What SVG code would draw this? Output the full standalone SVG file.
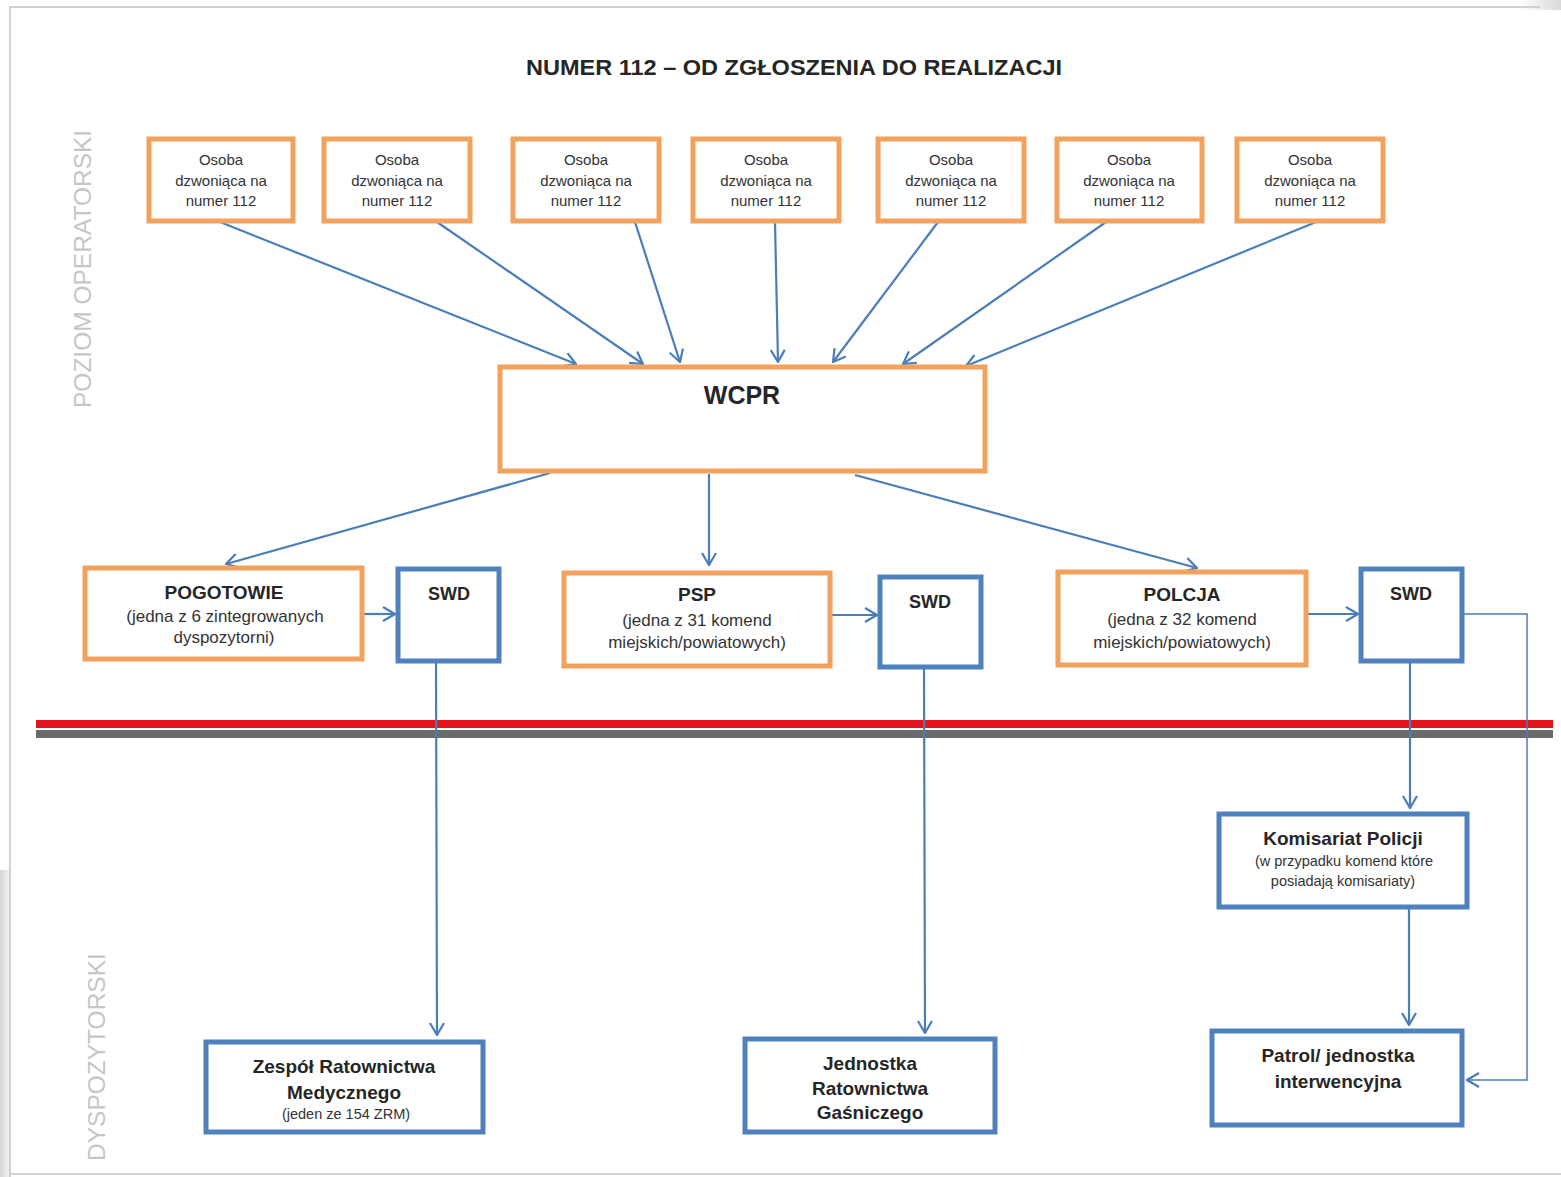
<svg xmlns="http://www.w3.org/2000/svg" width="1561" height="1177" viewBox="0 0 1561 1177">
<defs>
<style>
.or{fill:#fff;stroke:#F2A25C;stroke-width:5}
.bl{fill:#fff;stroke:#4F81BD;stroke-width:5}
.c{fill:none;stroke:#4A7EBB;stroke-width:2.2}
.ct{fill:none;stroke:#4A7EBB;stroke-width:1.5}
.t{font-family:"Liberation Sans",Arial,sans-serif;fill:#262626;text-anchor:middle}
.s15{font-size:15px;fill:#333}
.s17{font-size:17px;fill:#333}
.s14{font-size:14.5px;fill:#333}
.b19{font-size:19px;font-weight:bold}
.side{font-family:"Liberation Sans",Arial,sans-serif;font-size:24.5px;fill:#c6c6c6}
</style>
<marker id="arr" viewBox="0 0 14 16" refX="13" refY="8" markerWidth="14" markerHeight="16" markerUnits="userSpaceOnUse" orient="auto">
<path d="M1,1 L13,8 L1,15" fill="none" stroke="#4A7EBB" stroke-width="2.2"/>
</marker>
<linearGradient id="sh" x1="0" y1="0" x2="1" y2="0">
<stop offset="0" stop-color="#d6d6d6"/>
<stop offset="1" stop-color="#f4f4f4"/>
</linearGradient>
<linearGradient id="tr" x1="0" y1="0" x2="1" y2="0">
<stop offset="0" stop-color="#ffffff"/>
<stop offset="1" stop-color="#d8d8d8"/>
</linearGradient>
</defs>
<rect width="1561" height="1177" fill="#fff"/>
<rect x="0" y="870" width="10" height="307" fill="url(#sh)"/>
<rect x="1520" y="0" width="41" height="10" fill="url(#tr)"/>
<g id="frame" fill="none" stroke="#c4c4c4" stroke-width="1.5">
<path d="M10,1177 L10,7 L1540,7"/>
<path d="M10,1174 L1561,1174"/>
</g>

<text class="t" x="794" y="75" font-size="22" font-weight="bold" textLength="536" lengthAdjust="spacingAndGlyphs">NUMER 112 – OD ZGŁOSZENIA DO REALIZACJI</text>
<text class="side" transform="translate(91,408) rotate(-90)">POZIOM OPERATORSKI</text>
<text class="side" transform="translate(105,1161) rotate(-90)">DYSPOZYTORSKI</text>

<g id="lines">
<rect x="36" y="720" width="1517" height="8" fill="#E3141C"/>
<rect x="36" y="730" width="1517" height="8" fill="#6a6a6a"/>
</g>

<g id="connectors">
<line class="c" x1="220" y1="222" x2="576" y2="364" marker-end="url(#arr)"/>
<line class="c" x1="437" y1="222" x2="643" y2="364" marker-end="url(#arr)"/>
<line class="c" x1="635" y1="222" x2="680" y2="362" marker-end="url(#arr)"/>
<line class="c" x1="775" y1="222" x2="778" y2="362" marker-end="url(#arr)"/>
<line class="c" x1="938" y1="222" x2="833" y2="362" marker-end="url(#arr)"/>
<line class="c" x1="1106" y1="222" x2="903" y2="364" marker-end="url(#arr)"/>
<line class="c" x1="1316" y1="222" x2="966" y2="366" marker-end="url(#arr)"/>
<line class="c" x1="550" y1="473" x2="226" y2="564" marker-end="url(#arr)"/>
<line class="c" x1="709" y1="474" x2="709" y2="565" marker-end="url(#arr)"/>
<line class="c" x1="855" y1="475" x2="1197" y2="568" marker-end="url(#arr)"/>
<line class="c" x1="363" y1="614" x2="395" y2="614" marker-end="url(#arr)"/>
<line class="c" x1="831" y1="615" x2="877" y2="615" marker-end="url(#arr)"/>
<line class="c" x1="1307" y1="614" x2="1358" y2="614" marker-end="url(#arr)"/>
<line class="c" x1="436" y1="662" x2="437" y2="1035" marker-end="url(#arr)"/>
<line class="c" x1="924" y1="668" x2="925" y2="1033" marker-end="url(#arr)"/>
<line class="c" x1="1410" y1="662" x2="1410" y2="808" marker-end="url(#arr)"/>
<line class="c" x1="1409" y1="908" x2="1409" y2="1025" marker-end="url(#arr)"/>
<polyline class="ct" points="1463,614 1527,614 1527,1080 1467,1080" marker-end="url(#arr)"/>
</g>

<g id="caller1"><rect class="or" x="149" y="139" width="144" height="82"/>
<text class="t s15" x="221" y="165">Osoba</text><text class="t s15" x="221" y="186">dzwoniąca na</text><text class="t s15" x="221" y="206">numer 112</text></g>
<g id="caller2"><rect class="or" x="324" y="139" width="146" height="82"/>
<text class="t s15" x="397" y="165">Osoba</text><text class="t s15" x="397" y="186">dzwoniąca na</text><text class="t s15" x="397" y="206">numer 112</text></g>
<g id="caller3"><rect class="or" x="513" y="139" width="146" height="82"/>
<text class="t s15" x="586" y="165">Osoba</text><text class="t s15" x="586" y="186">dzwoniąca na</text><text class="t s15" x="586" y="206">numer 112</text></g>
<g id="caller4"><rect class="or" x="693" y="139" width="146" height="82"/>
<text class="t s15" x="766" y="165">Osoba</text><text class="t s15" x="766" y="186">dzwoniąca na</text><text class="t s15" x="766" y="206">numer 112</text></g>
<g id="caller5"><rect class="or" x="878" y="139" width="146" height="82"/>
<text class="t s15" x="951" y="165">Osoba</text><text class="t s15" x="951" y="186">dzwoniąca na</text><text class="t s15" x="951" y="206">numer 112</text></g>
<g id="caller6"><rect class="or" x="1057" y="139" width="145" height="82"/>
<text class="t s15" x="1129" y="165">Osoba</text><text class="t s15" x="1129" y="186">dzwoniąca na</text><text class="t s15" x="1129" y="206">numer 112</text></g>
<g id="caller7"><rect class="or" x="1237" y="139" width="146" height="82"/>
<text class="t s15" x="1310" y="165">Osoba</text><text class="t s15" x="1310" y="186">dzwoniąca na</text><text class="t s15" x="1310" y="206">numer 112</text></g>

<g id="wcpr"><rect class="or" x="500" y="367" width="485" height="104"/>
<text class="t" x="742" y="404" font-size="25" font-weight="bold">WCPR</text></g>

<g id="pogotowie"><rect class="or" x="85" y="568" width="277" height="91"/>
<text class="t b19" x="224" y="599">POGOTOWIE</text>
<text class="t s17" x="225" y="622">(jedna z 6 zintegrowanych</text>
<text class="t s17" x="224" y="643">dyspozytorni)</text></g>
<g id="swd1"><rect class="bl" x="398" y="569" width="101" height="92"/>
<text class="t" x="449" y="600" font-size="18" font-weight="bold">SWD</text></g>

<g id="psp"><rect class="or" x="564" y="573" width="266" height="93"/>
<text class="t b19" x="697" y="601">PSP</text>
<text class="t s17" x="697" y="626">(jedna z 31 komend</text>
<text class="t s17" x="697" y="648">miejskich/powiatowych)</text></g>
<g id="swd2"><rect class="bl" x="880" y="577" width="101" height="90"/>
<text class="t" x="930" y="608" font-size="18" font-weight="bold">SWD</text></g>

<g id="polcja"><rect class="or" x="1058" y="572" width="248" height="93"/>
<text class="t b19" x="1182" y="601">POLCJA</text>
<text class="t s17" x="1182" y="625">(jedna z 32 komend</text>
<text class="t s17" x="1182" y="648">miejskich/powiatowych)</text></g>
<g id="swd3"><rect class="bl" x="1361" y="569" width="101" height="92"/>
<text class="t" x="1411" y="600" font-size="18" font-weight="bold">SWD</text></g>

<g id="komisariat"><rect class="bl" x="1219" y="814" width="248" height="93"/>
<text class="t b19" x="1343" y="845">Komisariat Policji</text>
<text class="t s14" x="1344" y="866">(w przypadku komend które</text>
<text class="t s14" x="1343" y="886">posiadają komisariaty)</text></g>

<g id="zrm"><rect class="bl" x="206" y="1042" width="277" height="90"/>
<text class="t b19" x="344" y="1073">Zespół Ratownictwa</text>
<text class="t b19" x="344" y="1099">Medycznego</text>
<text class="t s14" x="346" y="1119">(jeden ze 154 ZRM)</text></g>

<g id="jrg"><rect class="bl" x="745" y="1039" width="250" height="93"/>
<text class="t b19" x="870" y="1070">Jednostka</text>
<text class="t b19" x="870" y="1095">Ratownictwa</text>
<text class="t b19" x="870" y="1119">Gaśniczego</text></g>

<g id="patrol"><rect class="bl" x="1212" y="1031" width="250" height="94"/>
<text class="t b19" x="1338" y="1062">Patrol/ jednostka</text>
<text class="t b19" x="1338" y="1088">interwencyjna</text></g>
</svg>
